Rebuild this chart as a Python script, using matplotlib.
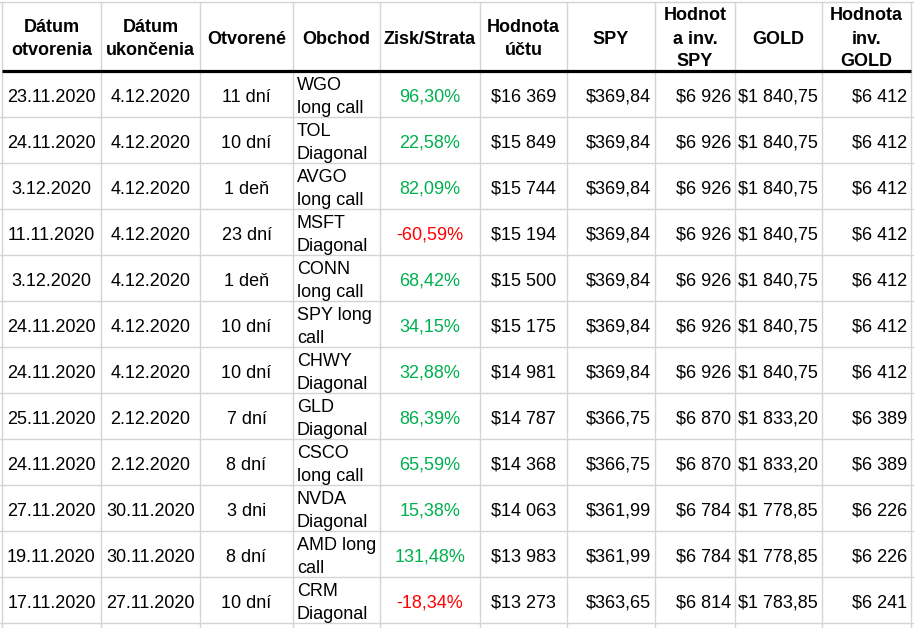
import matplotlib.pyplot as plt

# Table content, one list per column.
headers = ['Dátum\notvorenia', 'Dátum\nukončenia', 'Otvorené', 'Obchod', 'Zisk/Strata',
           'Hodnota\núčtu', 'SPY', 'Hodnot\na inv.\nSPY', 'GOLD', 'Hodnota\ninv.\nGOLD']

opened = ['23.11.2020', '24.11.2020', '3.12.2020', '11.11.2020', '3.12.2020', '24.11.2020',
          '24.11.2020', '25.11.2020', '24.11.2020', '27.11.2020', '19.11.2020', '17.11.2020']
closed = ['4.12.2020', '4.12.2020', '4.12.2020', '4.12.2020', '4.12.2020', '4.12.2020',
          '4.12.2020', '2.12.2020', '2.12.2020', '30.11.2020', '30.11.2020', '27.11.2020']
days = ['11 dní', '10 dní', '1 deň', '23 dní', '1 deň', '10 dní',
        '10 dní', '7 dní', '8 dní', '3 dni', '8 dní', '10 dní']
trades = ['WGO\nlong call', 'TOL\nDiagonal', 'AVGO\nlong call', 'MSFT\nDiagonal', 'CONN\nlong call',
          'SPY long\ncall', 'CHWY\nDiagonal', 'GLD\nDiagonal', 'CSCO\nlong call', 'NVDA\nDiagonal',
          'AMD long\ncall', 'CRM\nDiagonal']
profit = [96.30, 22.58, 82.09, -60.59, 68.42, 34.15, 32.88, 86.39, 65.59, 15.38, 131.48, -18.34]
account = ['$16 369', '$15 849', '$15 744', '$15 194', '$15 500', '$15 175',
           '$14 981', '$14 787', '$14 368', '$14 063', '$13 983', '$13 273']
spy = ['$369,84'] * 7 + ['$366,75'] * 2 + ['$361,99'] * 2 + ['$363,65']
spy_value = ['$6 926'] * 7 + ['$6 870'] * 2 + ['$6 784'] * 2 + ['$6 814']
gold = ['$1 840,75'] * 7 + ['$1 833,20'] * 2 + ['$1 778,85'] * 2 + ['$1 783,85']
gold_value = ['$6 412'] * 7 + ['$6 389'] * 2 + ['$6 226'] * 2 + ['$6 241']

# Layout of the sheet in pixels.
col_edges = [2, 101, 200, 293, 380, 480, 567, 655, 735, 822, 911]
align = ['center', 'center', 'center', 'left', 'center', 'center', 'right', 'right', 'right', 'right']
top = 2
header_bottom = 71
row_h = 46
line_h = 23
pad = 4
grid_color = '#d4d4d4'
green = '#00b050'
red = '#ff0000'

plt.rcParams['font.family'] = ['Liberation Sans', 'DejaVu Sans']
fs = 18 * 72 / 100  # 18 px at 100 dpi

fig = plt.figure(figsize=(9.14, 6.28), dpi=100)
ax = fig.add_axes([0, 0, 1, 1])
ax.set_xlim(0, 914)
ax.set_ylim(628, 0)
ax.axis('off')


def put(text, col, y_center, color='black', weight='normal'):
    lines = text.split('\n')
    left, right = col_edges[col], col_edges[col + 1]
    if align[col] == 'left':
        x, ha = left + pad, 'left'
    elif align[col] == 'right':
        x, ha = right - pad, 'right'
    else:
        x, ha = (left + right) / 2, 'center'
    for i, line in enumerate(lines):
        y = y_center + (i - (len(lines) - 1) / 2) * line_h
        ax.text(x, y + 6.5, line, ha=ha, va='baseline', fontsize=fs, color=color, weight=weight)


# Grid lines
for x in col_edges:
    ax.plot([x, x], [top, 628], color=grid_color, lw=1, solid_capstyle='butt')
ax.plot([0, 914], [top, top], color=grid_color, lw=1)
n_rows = len(opened)
for r in range(1, n_rows + 2):
    y = header_bottom + r * row_h
    ax.plot([0, 914], [y, y], color=grid_color, lw=1)
ax.plot([col_edges[0], col_edges[-1]], [header_bottom, header_bottom], color='black', lw=2.3,
        solid_capstyle='butt')

# Header
header_center = (top + header_bottom) / 2 + 0.5
for c, h in enumerate(headers):
    # every header cell is centered
    lines = h.split('\n')
    xc = (col_edges[c] + col_edges[c + 1]) / 2
    for i, line in enumerate(lines):
        y = header_center + (i - (len(lines) - 1) / 2) * line_h
        ax.text(xc, y + 6.5, line, ha='center', va='baseline', fontsize=fs, weight='bold')

# Body
for r in range(n_rows):
    yc = header_bottom + r * row_h + row_h / 2 + 1
    pct = f'{profit[r]:.2f}%'.replace('.', ',')
    row = [opened[r], closed[r], days[r], trades[r], pct, account[r],
           spy[r], spy_value[r], gold[r], gold_value[r]]
    for c, val in enumerate(row):
        color = 'black'
        if c == 4:
            color = green if profit[r] >= 0 else red
        put(val, c, yc, color=color)

fig.savefig('out.png', dpi=100)
